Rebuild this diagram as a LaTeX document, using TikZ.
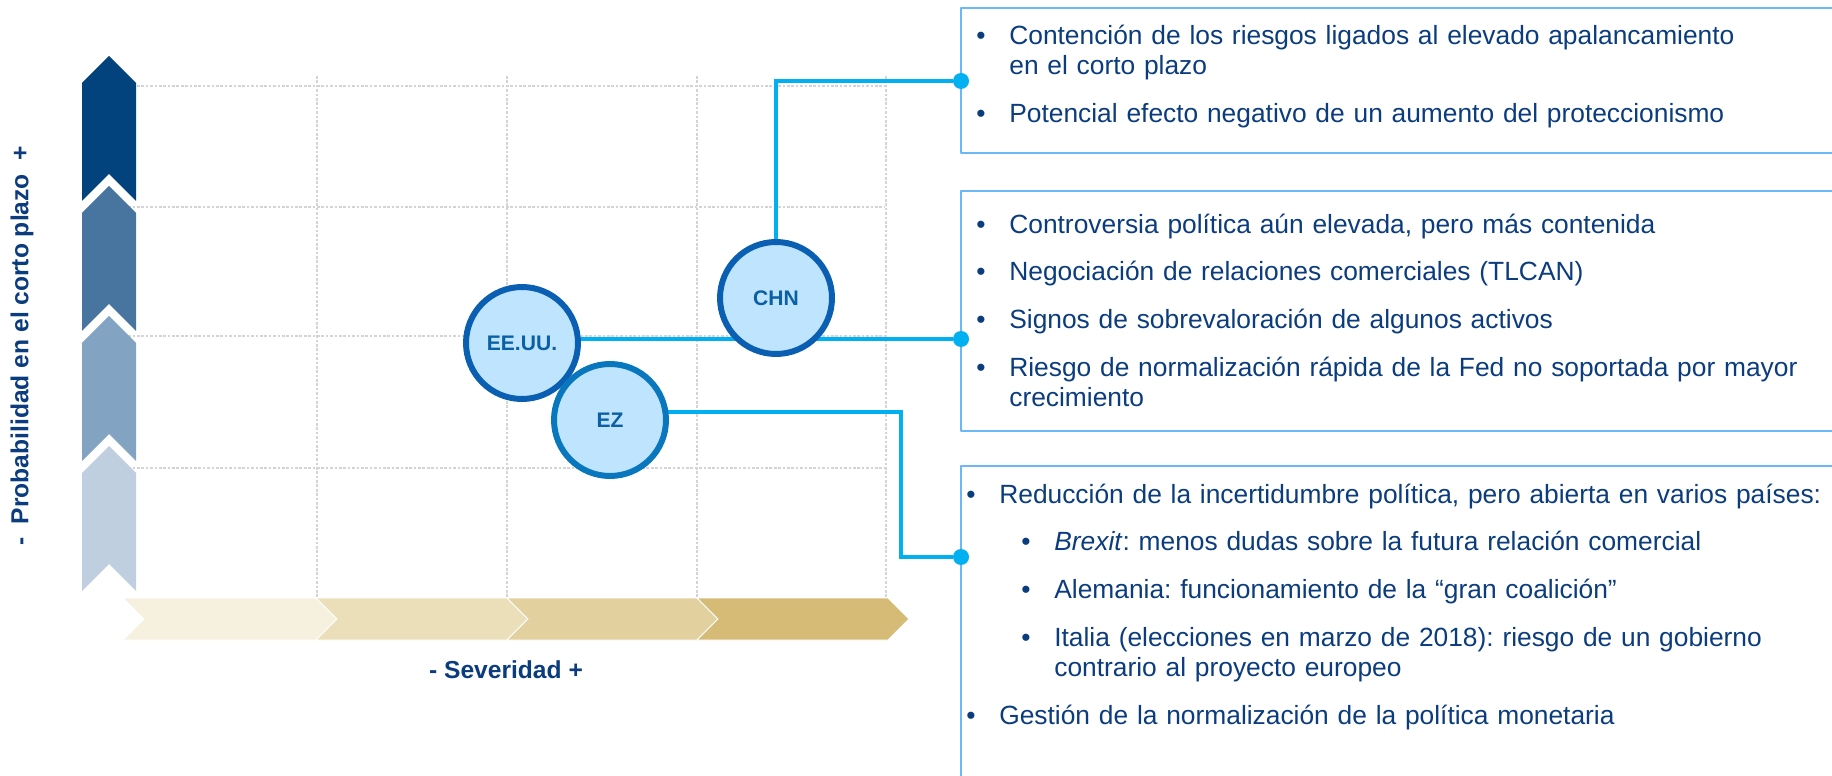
\documentclass[tikz,border=0pt]{standalone}
\usepackage{fontspec}
\setmainfont{Liberation Sans}
\usetikzlibrary{backgrounds}
\definecolor{navy}{HTML}{0B3C7D}
\definecolor{vA}{HTML}{02437E}
\definecolor{vB}{HTML}{4775A0}
\definecolor{vC}{HTML}{82A3C2}
\definecolor{vD}{HTML}{C0CFDF}
\definecolor{hA}{HTML}{F6F0DF}
\definecolor{hB}{HTML}{EBDFBA}
\definecolor{hC}{HTML}{E2D09F}
\definecolor{hD}{HTML}{D6BB76}
\definecolor{cfill}{HTML}{BEE5FD}
\definecolor{cline}{HTML}{0B5FB3}
\definecolor{ctext}{HTML}{0B5FA5}
\definecolor{linkblue}{HTML}{00B0F0}
\definecolor{boxblue}{HTML}{6BB8F8}
\definecolor{gridgray}{HTML}{D4D4D4}
\frenchspacing
\newcommand{\riskitem}[2][0cm]{\par\noindent\hangindent=\dimexpr#1+0.66cm\relax\hangafter=1%
  \hspace*{#1}\makebox[0.66cm][l]{\textbullet}\strut#2\par}
\begin{document}
\begin{tikzpicture}[x=0.02cm,y=-0.02cm,line join=round,
    country/.style={circle,draw=cline,line width=3.4pt,fill=cfill,minimum size=2.24cm,
      inner sep=0pt,font=\fontsize{12}{14}\selectfont\bfseries,text=ctext},
    dot/.style={circle,fill=linkblue,minimum size=0.32cm,inner sep=0pt},
    link/.style={draw=linkblue,line width=2.3pt},
    boxline/.style={draw=boxblue,line width=1.1pt},
    gridline/.style={draw=gridgray,line width=0.6pt,dash pattern=on 1.5pt off 1pt},
    axis/.style={font=\fontsize{14}{16}\selectfont\bfseries,text=navy},
    risktext/.style={anchor=north west,inner sep=0pt,text width=17.5cm,align=left,
      font=\fontsize{15}{17.3}\selectfont,text=navy,
      execute at begin node=\setlength{\parskip}{9.9pt}}]
  \useasboundingbox (0,0) rectangle (1832,776);
  \clip (0,0) rectangle (1832,776);
  \begin{scope}[on background layer]
    \foreach \x in {317,507,697,886}
    \draw[gridline] (\x,76) -- (\x,598);
    \foreach \y in {86,207,336,468}
    \draw[gridline] (115,\y) -- (885,\y);
    % probabilidad
    \foreach \c [count=\i from 0] in {vA,vB,vC,vD}
    \fill[\c] (82,{83+130*\i}) -- (109,{56+130*\i}) -- (136,{83+130*\i})
      -- (136,{201+130*\i}) -- (109,{174+130*\i}) -- (82,{201+130*\i}) -- cycle;
    % severidad
    \foreach \l/\r/\c in {123/316/hA,316/507/hB,507/697/hC,697/888/hD}
    \filldraw[fill=\c,draw=white,line width=0.5pt] (\l,598) -- (\r,598) -- ({\r+21},619)
      -- (\r,640) -- (\l,640) -- ({\l+21},619) -- cycle;
  \end{scope}

  \node[axis,rotate=90] (ylab) at (22,346) {-~~Probabilidad en el corto plazo~~+};
  \node[axis] (xlab) at (506,670) {- Severidad +};

  \draw[boxline] (961,8) rectangle (1850,153);
  \draw[boxline] (961,191) rectangle (1850,431);
  \draw[boxline] (961,466) rectangle (1850,800);

  \node[risktext] (chntext) at (976,-4) {%
    \riskitem{Contención de los riesgos ligados al elevado apalancamiento\newline en el corto plazo}
    \riskitem{Potencial efecto negativo de un aumento del proteccionismo}};
  \node[risktext] (eeuutext) at (976,185) {%
    \riskitem{Controversia política aún elevada, pero más contenida}
    \riskitem{Negociación de relaciones comerciales (TLCAN)}
    \riskitem{Signos de sobrevaloración de algunos activos}
    \riskitem{Riesgo de normalización rápida de la Fed no soportada por mayor\newline crecimiento}};
  \node[risktext] (eztext) at (966,455) {%
    \riskitem{Reducción de la incertidumbre política, pero abierta en varios países:}
    \riskitem[1.1cm]{\textit{Brexit}: menos dudas sobre la futura relación comercial}
    \riskitem[1.1cm]{Alemania: funcionamiento de la “gran coalición”}
    \riskitem[1.1cm]{Italia (elecciones en marzo de 2018): riesgo de un gobierno\newline contrario al proyecto europeo}
    \riskitem{Gestión de la normalización de la política monetaria}};

  \node[country] (EEUU) at (522,343) {EE.UU.};
  \node[country,draw=cline!85!cyan] (EZ) at (610,420) {EZ};
  \node[country] (CHN) at (776,298) {CHN};
  \coordinate (ezturn) at (901,412);

  \foreach \p/\y in {d1/81,d2/339,d3/557}
  \node[dot] (\p) at (961,\y) {};

  \begin{scope}[on background layer]
    \draw[link] (CHN) |- (d1);
    \draw[link] (EEUU |- d2) -- (d2);
    \draw[link] (EZ |- ezturn) -- (ezturn) |- (d3);
  \end{scope}
\end{tikzpicture}
\end{document}
